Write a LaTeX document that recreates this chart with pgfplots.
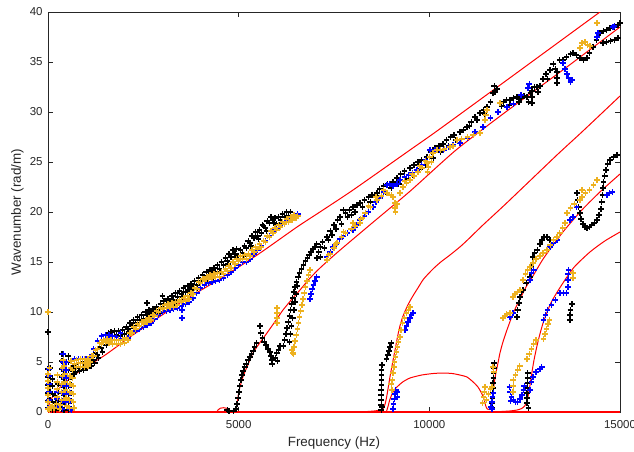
\documentclass[border=0pt]{standalone}
\usepackage{pgfplots}
\pgfplotsset{compat=1.18}
\usepackage{fontspec}
\setmainfont{Liberation Sans}
\definecolor{axgray}{RGB}{38,38,38}
\definecolor{morange}{RGB}{237,177,32}
\definecolor{mblue}{RGB}{0,0,255}
\begin{document}
\begin{tikzpicture}
\begin{axis}[
  scale only axis, width=286pt, height=200pt,
  xmin=0, xmax=15000, ymin=0, ymax=40,
  xtick={0,5000,10000,15000}, ytick={0,5,...,40},
  scaled x ticks=false,
  /pgf/number format/assume math mode=true,
  /pgf/number format/1000 sep={},
  xticklabel style={inner sep=0pt, yshift=-4pt},
  yticklabel style={inner sep=0pt, xshift=-2.5pt},
  tick align=inside, major tick length=2.5pt,
  axis line style={axgray, line width=0.4pt},
  tick style={axgray, line width=0.4pt},
  tick label style={font=\fontsize{5.75}{7}\selectfont, text=axgray},
  label style={font=\fontsize{6.7}{8}\selectfont, text=axgray},
  xlabel={Frequency (Hz)},
  ylabel={Wavenumber (rad/m)},
  xlabel style={at={(axis description cs:0.5,-0.06)}, anchor=north, inner sep=0pt},
  ylabel style={at={(axis description cs:-0.042,0.5)}, anchor=south, inner sep=0pt},
  every axis plot/.append style={mark options={solid, line width=0.65pt}},
]
% black measurements
\addplot[only marks, mark=+, mark size=1.4pt, black] coordinates {
(0,8.0)(0,4.3)(0,3.5)(0,2.7)(0,1.9)(0,1.1)(0,0.4)
(50,0.3)(50,1.2)(50,2.0)(50,2.8)(50,3.6)(50,4.4)
(120,0.2)(120,1.0)(120,1.8)(120,2.6)(120,3.3)
(200,0.2)(200,0.9)(200,1.6)
(260,0.4)(260,1.2)(260,2.0)(260,2.8)
(370,0.3)(370,1.1)(370,1.9)(370,2.7)(370,3.5)(370,4.3)(370,5.1)(370,5.8)
(420,0.2)(420,1.0)(420,1.8)(420,2.6)(420,3.4)(420,4.2)(420,5.0)
(530,0.2)(530,1.0)(530,1.8)(530,2.6)(530,3.4)(530,4.2)(530,5.0)(530,5.6)
(600,0.3)(600,1.1)(600,1.9)(600,2.7)(600,3.5)(600,4.3)
(680,3.8)(680,4.6)
(700,4.3)(800,4.4)(900,4.5)(1000,4.7)(1100,4.9)(1200,5.2)(1300,5.7)(1400,6.4)(1500,7.0)(1600,7.4)
(1700,7.6)(1800,7.7)(1900,7.6)(2000,7.8)(2100,8.3)(2200,8.6)(2300,8.9)(2400,9.2)(2500,9.3)(2600,9.7)
(2700,9.8)(2800,9.9)(2900,10.2)(3000,10.5)(3100,10.7)(3200,10.9)(3300,11.2)(3400,11.5)(3500,11.8)(3600,12.0)
(3700,12.2)(3800,12.4)(3900,12.7)(4000,13.1)(4100,13.4)(4200,13.6)(4300,13.8)(4400,14.0)(4500,14.3)(4600,14.7)
(4700,15.1)(4800,15.5)(4900,15.8)(5000,15.6)(5100,15.9)(5200,16.4)(5300,16.9)(5400,17.4)(5500,17.6)(5600,17.9)
(5700,18.4)(5800,18.9)(5900,19.2)(6000,18.8)(6100,19.2)(6200,19.5)(6300,19.6)(6400,19.5)(6500,19.4)
(750,4.8)(850,4.9)(950,5.0)(1050,5.2)(1150,5.5)(1250,5.9)(1350,6.5)(1450,7.2)(1550,7.7)(1650,8.0)
(1750,8.1)(1850,8.1)(1950,8.2)(2050,8.5)(2150,8.9)(2250,9.2)(2350,9.5)(2450,9.7)(2550,10.0)(2650,10.2)
(2750,10.3)(2850,10.5)(2950,10.8)(3050,11.1)(3150,11.3)(3250,11.6)(3350,11.9)(3450,12.1)(3550,12.4)(3650,12.6)
(3750,12.8)(3850,13.1)(3950,13.4)(4050,13.7)(4150,14.0)(4250,14.2)(4350,14.4)(4450,14.7)(4550,15.0)(4650,15.4)
(4750,15.8)(4850,16.2)(4950,16.3)(5050,16.2)(5150,16.6)(5250,17.1)(5350,17.6)(5450,18.0)(5550,18.2)(5650,18.6)
(5750,19.1)(5850,19.5)(5950,19.4)(6050,19.5)(6150,19.8)(6250,20.0)(6350,20.0)
(725,4.0)(825,4.1)(925,4.2)(1025,4.4)(1125,4.6)(1225,4.9)(1325,5.4)(1425,6.0)(1525,6.7)(1625,7.1)
(2125,8.0)(2325,8.6)(2525,9.0)(2725,9.5)(2925,9.9)(3125,10.4)(3325,10.9)(3525,11.5)(3725,11.9)(3925,12.4)
(4125,13.1)(4325,13.5)(4525,14.0)(4725,14.8)(4925,15.5)(5125,15.6)(5325,16.6)(5525,17.3)(5725,18.1)(5925,18.9)(6125,18.9)(6325,19.3)
(2600,10.9)(3000,11.6)(3020,11.1)(5620,18.7)(1580,7.9)
(4700,0.2)(4750,0.1)(4870,0.1)(4930,0.3)(4960,0.8)(4990,1.4)(5010,2.0)(5030,2.6)(5060,3.2)(5090,3.7)
(5120,4.1)(5160,4.5)(5200,4.8)(5250,5.2)(5300,5.5)(5340,5.8)(5380,6.1)(5420,6.5)(5470,6.9)
(5560,8.6)(5580,7.9)(5620,7.4)(5670,7.0)(5720,6.7)(5770,6.3)(5820,6.0)(5850,5.6)(5870,5.2)(5880,4.8)
(5960,5.4)(6000,5.9)(6040,6.2)(6080,6.6)(6020,5.1)
(6180,6.6)(6210,7.2)(6240,7.8)(6270,8.4)(6300,9.0)(6330,9.6)(6360,10.2)(6390,10.8)(6420,11.4)(6450,12.0)
(6480,12.5)(6520,13.0)(6560,13.5)(6600,13.9)(6650,14.3)(6700,14.7)(6750,15.1)(6800,15.4)(6850,15.7)(6900,16.0)
(6950,16.3)(7000,16.5)(7050,16.8)
(6330,7.0)(6360,7.8)(6390,8.6)(6420,9.4)(6450,10.2)(6480,11.0)(6510,11.8)(6540,12.6)
(7053,15.4)(7100,16.0)(7150,16.5)(7200,17.0)(7315,17.5)(7400,18.1)(7500,18.7)(7600,19.2)(7656,19.5)(7740,20.2)
(7800,19.9)(7900,20.2)(8000,20.5)(8100,20.7)(8181,20.9)(8300,21.2)(8400,21.5)(8500,21.7)(8626,21.9)(8700,22.3)
(8800,22.6)(8900,22.8)(9046,23.0)(9150,23.4)(9250,23.8)(9350,24.1)(9492,24.4)(9600,24.7)(9700,25.0)(9800,25.2)
(9937,25.5)(10050,26.0)(10150,26.4)(10250,26.6)(10357,26.8)(10450,27.2)(10550,27.5)(10650,27.7)(10803,28.0)
(7150,15.5)(7250,16.4)(7350,17.2)(7450,17.7)(7550,18.3)(7700,18.8)(7850,19.5)(7950,19.7)(8050,20.0)(8250,20.5)
(8450,21.0)(8650,21.4)(8850,22.0)(9000,22.4)(9200,22.8)(9400,23.3)(9550,23.7)(9750,24.3)(9900,24.7)(10100,25.4)
(10300,26.0)(10500,26.6)(10700,27.2)
(10900,28.2)(10986,28.5)(11100,29.0)(11200,29.5)(11327,29.9)(11420,30.2)(11511,30.5)(11600,31.0)(11669,31.9)(11700,32.6)
(11720,32.0)(11773,32.3)(11852,30.9)(11950,31.0)(12030,31.2)(12114,31.2)(12200,31.4)(12297,31.5)(12400,31.4)(12480,31.6)
(12560,31.5)(12650,31.9)(12690,30.9)(12690,31.5)(12690,32.1)(12750,32.5)(12820,32.5)(12900,32.6)(12980,33.3)(13060,33.8)
(13162,34.2)(13250,34.8)(13346,34.0)(13346,33.4)(13346,32.9)(13420,35.2)(13503,35.2)(13600,35.5)(13700,35.8)(13765,35.9)
(13850,35.7)(13950,35.4)(14050,35.2)(14132,35.4)(14200,35.9)(14290,36.5)(14380,37.2)(14474,37.9)(14560,38.1)(14650,38.2)
(14736,38.4)(14850,38.5)(14950,38.7)(15000,38.9)
(11050,28.6)(11250,29.2)(11450,29.8)(11900,30.6)(12100,30.7)(12350,31.0)(12600,31.0)(12850,32.0)(13100,33.3)(13300,34.3)
(14552,36.9)(14650,37.0)(14750,37.1)(14850,37.2)(14950,37.4)
(8740,0.2)(8740,0.7)(8740,1.2)(8740,1.7)(8740,2.2)(8750,2.7)(8750,3.2)(8750,3.7)(8750,4.2)(8760,4.7)(8760,0.5)
(8880,5.3)(8910,5.7)(8940,6.1)(8970,6.5)(9000,6.9)
(11650,0.4)(11650,0.9)(11660,1.4)(11660,1.9)(11670,2.4)(11670,2.9)(11680,3.4)(11680,3.9)(11690,4.4)(11700,4.9)
(12297,9.5)(12320,10.2)(12350,10.9)(12376,11.5)(12420,12.0)(12455,12.2)(12540,12.9)(12638,13.5)(12680,14.5)(12717,15.5)
(12760,15.9)(12830,16.2)(12900,16.8)(12952,17.2)(13010,17.5)(13083,17.5)(13162,17.2)
(13870,21.9)(13890,21.2)(13920,20.5)(13949,19.9)(13980,19.3)(14030,18.8)(14080,18.5)(14132,18.4)(14200,18.5)(14260,18.7)
(14330,18.9)(14395,19.2)(14450,19.7)(14500,20.3)(14520,21.0)(14540,21.7)(14552,22.4)(14570,23.0)(14600,23.6)(14630,24.2)
(14680,24.8)(14736,25.2)(14830,25.5)(14920,25.7)
(12560,0.9)(12560,1.4)(12560,1.9)(12570,2.4)(12570,2.9)(12580,3.4)(12580,3.9)(12600,0.4)
(13687,9.2)(13687,9.7)(13700,10.2)(13740,10.8)
};
% blue measurements
\addplot[only marks, mark=+, mark size=1.4pt, mblue] coordinates {
(20,0.4)(20,1.2)(20,2.0)(20,2.8)(20,3.6)(20,4.3)(240,0.5)(240,1.3)(240,2.0)
(380,0.3)(380,1.1)(380,1.9)(380,2.7)(380,3.5)(380,4.3)(380,5.0)(400,5.8)
(470,1.0)(470,1.8)(470,2.6)(470,3.4)(470,4.2)(470,5.0)(580,0.3)(580,1.1)(580,1.9)(580,2.7)(620,0.2)
(700,5.3)(800,5.3)(900,5.3)(1000,5.3)(1100,5.5)(1200,6.3)(1300,7.1)(1400,7.6)(1500,7.7)(1600,7.7)
(1700,7.6)(1800,7.5)(1900,7.3)(2000,7.2)(2100,7.4)(2200,7.9)(2300,8.1)(2400,8.3)(2500,8.5)(2600,8.7)
(2700,8.9)(2800,9.3)(2900,9.7)(3000,10.0)(3100,10.1)(3200,10.2)(3300,10.3)(3400,10.4)(3500,10.6)(3600,10.8)
(3700,11.0)(3800,11.4)(3900,11.9)(4000,12.4)(4100,12.7)(4200,12.9)(4300,13.0)(4400,13.1)(4500,13.2)(4600,13.4)
(4700,13.7)(4800,14.0)(4900,14.4)(5000,14.7)(5100,15.0)(5200,15.0)(5300,15.3)(5400,15.8)(5500,16.2)(5600,16.6)
(5700,17.1)(5800,17.6)(5900,18.0)(6000,18.4)(6100,18.7)(6200,19.0)(6300,19.2)(6400,19.4)(6500,19.6)(6550,19.8)
(3510,9.4)(3510,10.2)(1900,7.9)
(6870,11.3)(6900,11.8)(6930,12.3)(6960,12.7)(7000,13.1)(7050,13.5)
(7300,15.5)(7400,16.0)(7472,16.5)(7550,16.8)(7650,17.3)(7750,17.6)(7850,17.9)(7997,18.2)(8100,18.7)(8181,19.2)
(8300,19.6)(8400,20.0)(8521,20.5)(8600,21.0)(8700,21.4)(8800,22.0)(8888,22.7)(8950,22.8)(9050,22.6)(9150,22.8)
(9229,23.2)(9350,23.5)(9450,23.7)(9550,23.9)(9675,24.2)(9800,24.7)(9900,25.2)(10016,26.2)(10095,25.9)(10150,26.2)
(10278,26.2)(10380,26.2)(10500,26.5)(10620,26.7)(10803,26.9)
(11000,27.4)(11200,28.0)(11406,28.5)(11600,29.4)(11800,30.0)(12035,30.5)(12200,30.8)(12400,31.7)(12586,32.4)(12620,32.8)
(13503,34.9)(13560,34.3)(13608,33.8)(13650,33.4)(13700,33.0)(13740,33.2)(14395,37.5)(14420,37.9)(14815,38.5)(14850,38.6)
(9050,0.3)(9060,0.8)(9080,1.3)(9100,1.8)(9120,2.2)(9150,2.0)(9170,1.5)
(9360,8.2)(9400,8.6)(9440,9.0)(9490,9.4)(9530,9.7)(9570,9.9)
(11620,0.5)(11640,1.0)(11660,1.5)(11680,1.9)(11640,0.3)
(12114,9.5)(12192,9.9)(12638,13.2)(12680,13.9)(12740,14.2)(13162,16.5)(13250,16.9)(13346,17.2)(13420,17.9)(13687,19.2)
(13765,19.5)(13860,20.5)(14657,21.7)(14730,21.9)(14800,22.0)
(12100,2.5)(12120,2.0)(12150,1.5)(12200,1.2)(12260,1.0)(12320,1.0)(12380,1.3)(12430,1.7)(12470,2.2)(12490,2.6)
(12130,1.1)(12640,2.2)(12680,3.0)(12720,3.5)(12800,4.0)(12900,4.3)(12950,4.5)
(12990,9.2)(13050,9.7)(13100,10.2)(13200,10.7)(13300,11.2)(13430,11.9)(13520,11.9)(13600,11.9)
(13634,12.5)(13634,13.2)(13640,13.8)(13650,14.2)
};
% orange measurements
\addplot[only marks, mark=+, mark size=1.4pt, morange] coordinates {
(0,10.0)(0,0.3)(0,1.0)(0,1.7)(0,2.4)(0,3.1)(0,3.8)(40,4.4)(40,0.2)(80,0.5)(120,0.6)(160,0.4)
(230,0.8)(240,1.5)(240,2.3)(240,3.0)(240,3.7)(300,0.3)(330,0.7)(360,1.2)(360,2.0)(360,2.8)(380,3.6)(380,4.4)
(400,5.2)(420,4.6)(440,3.8)(450,3.0)(460,2.2)(470,1.4)(480,0.6)(560,0.4)(570,1.2)(570,2.0)(580,2.8)(580,3.6)
(590,4.4)(600,5.1)(640,4.2)(650,3.4)(660,2.6)(660,1.8)(670,1.0)(680,0.4)
(700,4.8)(800,4.9)(900,4.9)(1000,4.9)(1100,5.0)(1200,5.6)(1300,6.3)(1400,6.8)(1500,7.0)(1600,6.9)
(1700,6.8)(1800,6.8)(1900,6.8)(2000,6.9)(2100,7.2)(2200,7.9)(2300,8.3)(2400,8.6)(2500,8.8)(2600,9.0)
(2700,9.2)(2800,9.6)(2900,10.0)(3000,10.3)(3100,10.4)(3200,10.5)(3300,10.5)(3400,10.7)(3500,11.0)(3600,11.1)
(3700,11.3)(3800,11.8)(3900,12.3)(4000,12.9)(4100,13.1)(4200,13.3)(4300,13.4)(4400,13.5)(4500,13.5)(4600,13.8)
(4700,14.1)(4800,14.4)(4900,14.8)(5000,15.1)(5100,15.3)(5200,15.3)(5300,15.6)(5400,16.0)(5500,16.3)(5600,16.5)
(5700,17.0)(5800,17.5)(5900,17.9)(6000,18.2)(6100,18.5)(6200,18.8)(6300,19.0)(6400,19.2)(6500,19.4)(6550,19.6)
(750,5.2)(850,5.3)(950,5.3)(1050,5.3)(1150,5.6)(1250,6.2)(1350,6.9)(1450,7.2)(1550,7.3)(1650,7.2)
(1750,7.2)(1850,7.2)(1950,7.2)(2050,7.4)(2150,7.9)(2250,8.5)(2350,8.8)(2450,9.0)(2550,9.2)(2650,9.4)
(2750,9.7)(2850,10.1)(2950,10.4)(3050,10.7)(3150,10.8)(3250,10.9)(3350,11.0)(3450,11.2)(3550,11.4)(3650,11.6)
(3750,11.9)(3850,12.4)(3950,13.0)(4050,13.3)(4150,13.5)(4250,13.7)(4350,13.8)(4450,13.9)(4550,14.0)(4650,14.3)
(4750,14.6)(4850,15.0)(4950,15.3)(5050,15.6)(5150,15.7)(5250,15.8)(5350,16.2)(5450,16.5)(5550,16.8)(5650,17.1)
(5750,17.6)(5850,18.1)(5950,18.4)(6050,18.7)(6150,19.0)(6250,19.3)(6350,19.5)(6450,19.7)
(750,4.5)(850,4.5)(950,4.5)(1050,4.6)
(6004,8.9)(6004,9.4)(6004,9.9)(6004,10.4)(6424,5.9)(6450,6.5)(6480,7.1)(6510,7.7)(6540,8.3)(6570,8.9)
(6600,9.5)(6630,10.1)(6660,10.7)(6690,11.3)(6720,11.9)(6750,12.5)(6790,13.1)(6830,13.7)(6870,14.2)(6400,6.2)(6440,5.8)
(7315,15.2)(7400,15.8)(7500,16.4)(7577,16.9)(7700,17.5)(7800,17.9)(7950,18.3)(8050,18.6)(8181,18.9)(8250,19.4)
(8320,19.9)(8450,20.5)(8626,21.2)(8750,21.6)(8888,21.9)(9000,21.7)(9046,21.5)(9098,20.9)(9098,20.4)(9110,20.0)
(9150,20.8)(9230,21.9)(9308,22.5)(9400,22.9)(9492,23.2)(9600,23.6)(9700,24.0)(9800,24.4)(9937,24.9)(10010,25.5)
(10095,25.9)(10200,26.2)(10300,26.2)(10400,26.3)(10541,26.5)(10620,26.6)(10725,27.2)(10850,27.3)(11000,27.5)(11150,27.7)
(11327,27.9)(11458,29.2)(11480,29.7)(11510,30.2)(11852,30.9)(13950,36.4)(14000,36.9)(14080,37.0)(14150,36.7)(14210,36.6)
(14395,38.9)
(7360,15.7)(7540,16.8)(7750,18.0)(8000,18.9)(8200,19.3)(8400,20.6)(8600,21.5)(8800,22.2)(9350,23.1)(9550,23.8)
(9750,24.6)(9900,25.1)(9950,24.0)(9980,24.5)(10050,25.0)
(9020,2.2)(9030,3.2)(9050,3.9)(9070,4.5)(9090,5.0)(9110,5.5)(9140,6.0)(9160,6.5)(9190,7.0)(9229,7.5)
(9260,8.2)(9300,8.9)(9350,9.4)(9400,9.9)(9450,10.2)(9492,10.5)(9000,2.8)
(11400,0.9)(11420,1.5)(11440,2.0)(11460,2.5)(11500,1.2)(11550,1.8)(11600,2.3)(11640,2.5)(11669,4.5)(11690,4.0)
(11930,9.4)(11980,9.6)(12030,9.8)(12114,9.9)(12192,11.5)(12250,11.8)(12310,12.0)(12376,12.2)(12455,13.2)(12520,13.8)
(12580,14.2)(12638,14.5)(12717,14.9)(12800,15.3)(12900,15.6)(12980,15.9)(13083,16.2)(13170,16.7)(13260,17.2)(13346,17.5)
(13420,17.9)(13500,18.4)(13560,18.9)(13608,19.9)(13700,20.4)(13800,20.8)(13949,21.2)(14000,21.5)(14100,21.9)(14200,22.2)
(14300,22.7)(14395,23.2)(13765,13.4)(13765,13.9)(14000,22.2)
(12192,2.0)(12200,2.6)(12200,3.2)(12260,3.7)(12320,4.2)(12370,4.6)(12560,5.3)(12620,5.8)(12680,6.3)(12740,6.8)
(12800,7.2)(12990,7.3)(13030,7.8)(13070,8.3)(13110,8.8)(13150,9.2)
};
% model curves
\addplot[red, line width=1.1pt] coordinates {(0,0)(15000,0)};
\addplot[red, line width=0.5pt, smooth, tension=0.4] coordinates {
(0,0)(20,0.6)(60,1.1)(150,1.7)(300,2.4)(480,3.0)(650,3.6)(1000,4.5)(1500,5.7)(2150,7.5)(2800,9.2)
(3540,11.1)(4326,12.9)(5000,14.5)(5600,16.0)(6530,18.5)(7130,20.0)(8000,22.2)(9492,26.2)(10200,28.1)
(12000,33.1)(14474,40)(14600,40.35)};
\addplot[red, line width=0.5pt, smooth, tension=0.4] coordinates {
(4900,0)(4940,0.3)(4960,0.9)(4990,1.7)(5034,2.5)(5120,3.6)(5218,4.5)(5375,5.9)(5550,6.9)(5742,7.9)
(6000,9.3)(6162,10.2)(6400,11.3)(6608,12.2)(6850,13.3)(7132,14.4)(7600,16.0)(8500,18.9)(9500,22.1)
(10700,26.2)(12000,30.0)(13500,34.2)(15000,38.5)};
\addplot[red, line width=0.5pt, smooth, tension=0.4] coordinates {
(8300,0.03)(8600,0.12)(8780,0.3)(8840,0.8)(8880,1.5)(8920,2.4)(8967,3.5)(9030,4.8)(9100,6.2)(9170,7.6)
(9229,8.6)(9300,9.5)(9400,10.4)(9492,11.1)(9600,11.8)(9700,12.4)(9850,13.3)(10095,14.3)(10300,15.0)
(10541,15.7)(10800,16.5)(11000,17.2)(11406,18.7)(12000,20.8)(13346,25.7)(14000,28.0)(15000,31.6)};
\addplot[red, line width=0.5pt, smooth, tension=0.4] coordinates {
(8880,0.1)(8920,0.6)(8960,1.2)(9000,1.6)(9060,2.1)(9150,2.5)(9300,3.0)(9492,3.4)(9800,3.7)(10100,3.85)
(10357,3.9)(10600,3.85)(10800,3.7)(10986,3.5)(11150,3.0)(11275,2.5)(11380,1.8)(11440,1.2)(11480,0.6)
(11520,0.3)(11580,0.25)(11630,0.3)(11645,0.7)(11660,1.4)(11680,2.2)(11710,3.1)(11750,4.0)(11800,4.9)
(11852,5.9)(11930,7.0)(12035,8.2)(12200,9.9)(12376,11.3)(12550,12.6)(12717,13.6)(13000,15.4)(13503,18.0)
(14000,20.2)(14500,22.1)(15000,23.8)};
\addplot[red, line width=0.5pt, smooth, tension=0.4] coordinates {
(11800,0.03)(12100,0.1)(12300,0.2)(12420,0.35)(12500,0.6)(12560,1.1)(12610,2.0)(12660,3.2)(12700,4.2)
(12750,5.3)(12822,6.6)(12900,7.8)(13000,9.1)(13200,11.0)(13503,12.9)(13800,14.5)(14211,16.0)(14600,17.1)
(15000,18.0)};
\addplot[red, line width=0.5pt, smooth, tension=0.4] coordinates {
(4430,0)(4460,0.22)(4520,0.38)(4600,0.43)(4680,0.38)(4740,0.22)(4770,0)};
\end{axis}
\pgfresetboundingbox
\path[use as bounding box] ([shift={(-24pt,-19.5pt)}]current axis.south west) rectangle ([shift={(7pt,6pt)}]current axis.north east);
\end{tikzpicture}
\end{document}
